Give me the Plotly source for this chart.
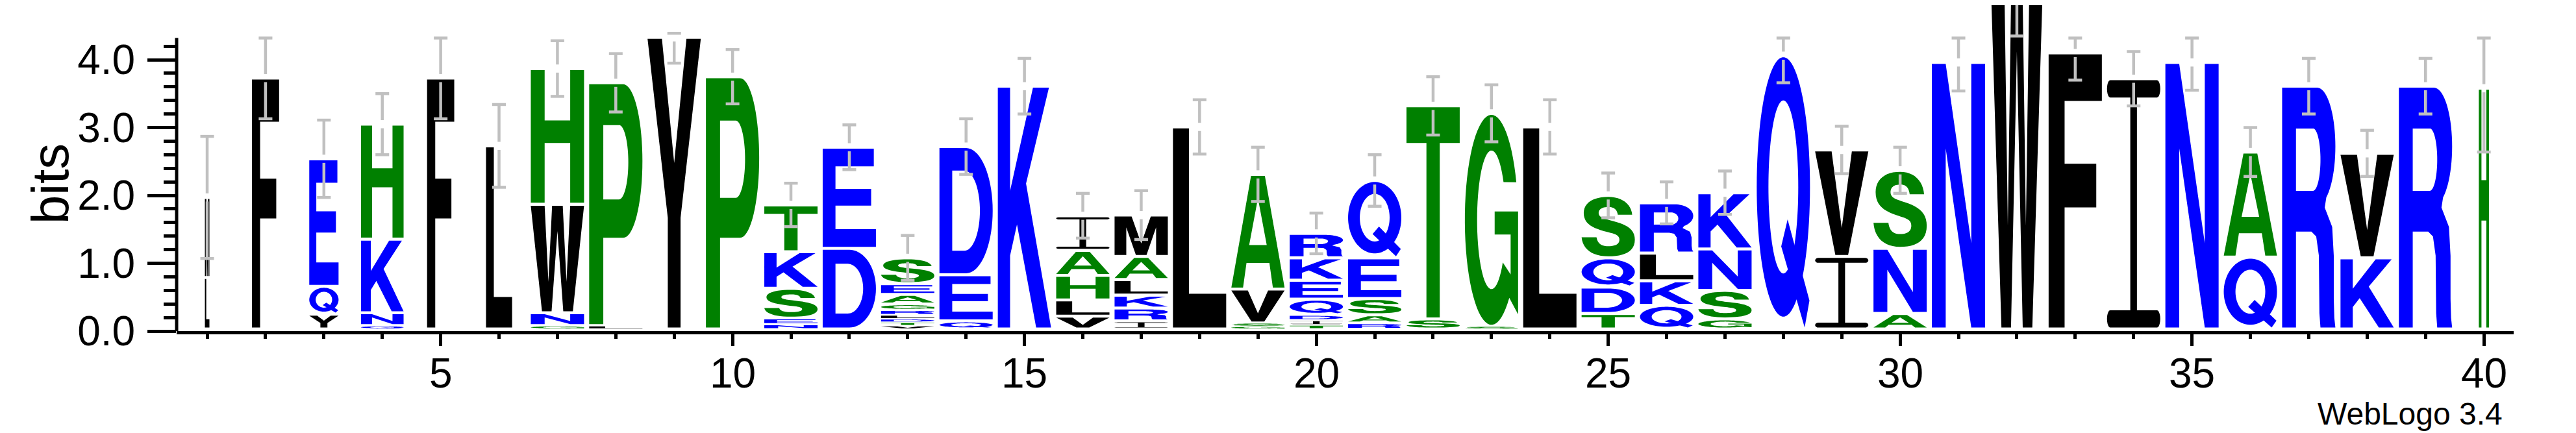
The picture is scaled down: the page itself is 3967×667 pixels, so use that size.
import numpy as np
import plotly.graph_objects as go

# ---------------- data ----------------
positions = list(range(1, 41))
# letters of each stack, bottom -> top
stack_letters = [
    "LM", "F", "YQE", "QNKH", "F", "L", "GNWH", "LP", "Y", "P",
    "NESKT", "DE", "VTDLRGAES", "QED", "K", "VLHAI", "IRKLAM", "L", "GSVA", "TIDQEKR",
    "RASEQ", "ST", "SG", "L", "TDQS", "QKLR", "GSNK", "Q", "IV", "ANS",
    "N", "W", "F", "I", "N", "QA", "R", "KV", "R", "H",
]
# heights (bits) of each letter, bottom -> top
stack_heights = [
    [0.76, 1.18], [3.70], [0.22, 0.41, 1.88], [0.05, 0.19, 1.085, 1.695], [3.70],
    [2.70], [0.05, 0.19, 1.60, 2.00], [0.05, 3.58], [4.30], [3.72],
    [0.07, 0.09, 0.44, 0.54, 0.69], [1.19, 1.49],
    [0.05, 0.05, 0.05, 0.06, 0.07, 0.09, 0.14, 0.16, 0.38],
    [0.12, 0.68, 1.89], [3.58], [0.19, 0.24, 0.36, 0.37, 0.51],
    [0.12, 0.19, 0.19, 0.23, 0.34, 0.61], [2.98], [0.04, 0.05, 0.50, 1.69],
    [0.06, 0.07, 0.08, 0.23, 0.28, 0.33, 0.36],
    [0.09, 0.12, 0.24, 0.60, 1.14], [0.15, 3.14], [0.04, 3.14], [2.98],
    [0.23, 0.39, 0.43, 0.92], [0.35, 0.36, 0.41, 0.74], [0.15, 0.42, 0.61, 0.83],
    [4.03], [1.07, 1.57], [0.23, 0.96, 1.15], [3.93], [5.40], [4.07], [3.69],
    [3.93], [1.06, 1.55], [3.58], [1.05, 1.54], [3.58], [3.55],
]
# relative stack width (fraction of a full column)
stack_width = [0.085, 0.51, 0.55, 0.80, 0.51, 0.49] + [1.0] * 33 + [0.19]
# error bar half-size (bits)
error_bits = [
    0.90, 0.60, 0.57, 0.45, 0.60, 0.61, 0.41, 0.43, 0.38, 0.40,
    0.32, 0.33, 0.33, 0.41, 0.41, 0.33, 0.36, 0.40, 0.40, 0.30,
    0.38, 0.43, 0.42, 0.40, 0.33, 0.31, 0.32, 0.40, 0.35, 0.34,
    0.42, 1.08, 0.40, 0.40, 0.41, 0.36, 0.41, 0.34, 0.41, 0.94,
]
xtick_vals = [5, 10, 15, 20, 25, 30, 35, 40]
ytick_vals = [0, 1, 2, 3, 4]
ytick_text = ["0.0", "1.0", "2.0", "3.0", "4.0"]
ytick_minor = [round(0.2 * i, 1) for i in range(1, 22) if i % 5 != 0]

# ---------------- style ----------------
FONT = "Liberation Sans, Arial, Helvetica, sans-serif"
GREEN, BLUE, BLACK, GREY = "#008000", "#0000FF", "#000000", "#C0C0C0"
COLOR = {}
for c in "STAPGHC":
    COLOR[c] = GREEN
for c in "KREDQN":
    COLOR[c] = BLUE
for c in "FLIMVWY":
    COLOR[c] = BLACK
Y_MAX_BITS = 4.32          # log2(20)
Y_TOP = 4.804              # top of picture in bits
FULL_W = 0.912             # full stack width in x units
BASE = 0.03
ERR_GAP = 0.06
CAP_HALF = 0.117


# ---------------- glyph outlines (unit box) ----------------
def ell(cx, cy, rx, ry, a0, a1, n=None):
    if n is None:
        n = max(6, int(abs(a1 - a0) / 5))
    t = np.radians(np.linspace(a0, a1, n + 1))
    return list(zip(cx + rx * np.cos(t), cy + ry * np.sin(t)))


def bez(p0, p1, p2, p3, n=12):
    t = np.linspace(0, 1, n + 1)[1:]
    out = []
    for s in t:
        a = (1 - s) ** 3
        b = 3 * (1 - s) ** 2 * s
        c = 3 * (1 - s) * s ** 2
        d = s ** 3
        out.append((a * p0[0] + b * p1[0] + c * p2[0] + d * p3[0],
                    a * p0[1] + b * p1[1] + c * p2[1] + d * p3[1]))
    return out


def s_outline():
    pts = [(0.95, 0.70), (0.68, 0.70)]
    segs1 = [((0.68, 0.70), (0.66, 0.80), (0.60, 0.83), (0.50, 0.83)),
             ((0.50, 0.83), (0.38, 0.83), (0.32, 0.79), (0.32, 0.73)),
             ((0.32, 0.73), (0.32, 0.66), (0.40, 0.64), (0.52, 0.61)),
             ((0.52, 0.61), (0.80, 0.55), (1.00, 0.48), (1.00, 0.28)),
             ((1.00, 0.28), (1.00, 0.08), (0.80, 0.00), (0.50, 0.00)),
             ((0.50, 0.00), (0.20, 0.00), (0.02, 0.12), (0.00, 0.32))]
    for s in segs1:
        pts += bez(*s)
    pts.append((0.28, 0.32))
    segs2 = [((0.28, 0.32), (0.30, 0.21), (0.38, 0.17), (0.50, 0.17)),
             ((0.50, 0.17), (0.64, 0.17), (0.71, 0.21), (0.71, 0.28)),
             ((0.71, 0.28), (0.71, 0.36), (0.62, 0.38), (0.48, 0.41)),
             ((0.48, 0.41), (0.22, 0.47), (0.04, 0.54), (0.04, 0.73)),
             ((0.04, 0.73), (0.04, 0.90), (0.22, 1.00), (0.50, 1.00)),
             ((0.50, 1.00), (0.76, 1.00), (0.93, 0.88), (0.95, 0.70))]
    for s in segs2:
        pts += bez(*s)
    return pts


def i_outline():
    r, t = 0.06, 0.035
    pts = [(r, 0), (1 - r, 0)]
    pts += ell(1 - r, t, r, t, -90, 90, 10)
    pts += [(0.5625, 2 * t), (0.5625, 1 - 2 * t), (1 - r, 1 - 2 * t)]
    pts += ell(1 - r, 1 - t, r, t, -90, 90, 10)
    pts += [(r, 1)]
    pts += ell(r, 1 - t, r, t, 90, 270, 10)
    pts += [(0.4375, 1 - 2 * t), (0.4375, 2 * t), (r, 2 * t)]
    pts += ell(r, t, r, t, 90, 270, 10)
    return pts


GLYPHS = {
    "A": [[[(0, 0), (0.22, 0), (0.285, 0.22), (0.715, 0.22), (0.78, 0), (1, 0), (0.63, 1), (0.37, 1)],
           [(0.335, 0.38), (0.665, 0.38), (0.5, 0.80)]]],
    "D": [[[(0, 0), (0.5, 0)] + ell(0.5, 0.5, 0.5, 0.5, -90, 90) + [(0, 1)],
           [(0.24, 0.18), (0.47, 0.18)] + ell(0.47, 0.5, 0.29, 0.32, -90, 90) + [(0.24, 0.82)]]],
    "E": [[[(0, 0), (1, 0), (1, 0.18), (0.24, 0.18), (0.24, 0.42), (0.91, 0.42), (0.91, 0.59),
            (0.24, 0.59), (0.24, 0.82), (0.96, 0.82), (0.96, 1), (0, 1)]]],
    "F": [[[(0, 0), (0.30, 0), (0.30, 0.44), (0.895, 0.44), (0.895, 0.60), (0.30, 0.60),
            (0.30, 0.83), (1, 0.83), (1, 1), (0, 1)]]],
    "G": [[ell(0.5, 0.5, 0.5, 0.5, 21, 312) +
           [(1.0, 0.05), (1.0, 0.54), (0.56, 0.54), (0.56, 0.43), (0.86, 0.43), (0.86, 0.24)] +
           ell(0.5, 0.5, 0.27, 0.33, -38, -327)]],
    "H": [[[(0, 0), (0.26, 0), (0.26, 0.45), (0.74, 0.45), (0.74, 0), (1, 0), (1, 1), (0.74, 1),
            (0.74, 0.62), (0.26, 0.62), (0.26, 1), (0, 1)]]],
    "I": [[i_outline()]],
    "K": [[[(0, 0), (0.23, 0), (0.23, 0.30), (0.36, 0.43), (0.72, 0), (1, 0), (0.53, 0.60),
            (0.96, 1), (0.66, 1), (0.23, 0.57), (0.23, 1), (0, 1)]]],
    "L": [[[(0, 0), (1, 0), (1, 0.17), (0.30, 0.17), (0.30, 1), (0, 1)]]],
    "M": [[[(0, 0), (0.22, 0), (0.22, 0.72), (0.40, 0), (0.60, 0), (0.78, 0.72), (0.78, 0), (1, 0),
            (1, 1), (0.68, 1), (0.5, 0.30), (0.32, 1), (0, 1)]]],
    "N": [[[(0, 0), (0.26, 0), (0.26, 0.68), (0.74, 0), (1, 0), (1, 1), (0.74, 1), (0.74, 0.32),
            (0.26, 1), (0, 1)]]],
    "P": [[[(0, 0), (0.265, 0), (0.265, 0.36), (0.64, 0.36)] + ell(0.64, 0.68, 0.36, 0.32, -90, 90) + [(0, 1)],
           [(0.265, 0.52), (0.56, 0.52)] + ell(0.56, 0.675, 0.175, 0.155, -90, 90) + [(0.265, 0.83)]]],
    "Q": [[ell(0.5, 0.52, 0.5, 0.48, 0, 360, 90), ell(0.5, 0.52, 0.28, 0.32, 0, 360, 90)],
          [[(0.46, 0.30), (0.58, 0.40), (0.99, 0.10), (0.90, 0.0)]]],
    "R": [[[(0, 0), (0.26, 0), (0.26, 0.40), (0.55, 0.40), (0.64, 0.38), (0.69, 0.30), (0.70, 0.06),
            (0.72, 0), (1, 0), (0.98, 0.04), (0.97, 0.12), (0.97, 0.30), (0.94, 0.42), (0.80, 0.50)] +
           ell(0.66, 0.755, 0.34, 0.245, -60, 90) + [(0, 1)],
           [(0.26, 0.57), (0.58, 0.57)] + ell(0.58, 0.70, 0.14, 0.13, -90, 90) + [(0.26, 0.83)]]],
    "S": [[s_outline()]],
    "T": [[[(0.375, 0), (0.625, 0), (0.625, 0.83), (1, 0.83), (1, 1), (0, 1), (0, 0.83), (0.375, 0.83)]]],
    "V": [[[(0, 1), (0.31, 1), (0.5, 0.26), (0.69, 1), (1, 1), (0.62, 0), (0.38, 0)]]],
    "W": [[[(0, 1), (0.21, 0), (0.39, 0), (0.5, 0.76), (0.61, 0), (0.79, 0), (1, 1), (0.74, 1),
            (0.67, 0.28), (0.60, 1), (0.40, 1), (0.33, 0.28), (0.26, 1)]]],
    "Y": [[[(0, 1), (0.27, 1), (0.5, 0.57), (0.73, 1), (1, 1), (0.62, 0.38), (0.62, 0),
            (0.38, 0), (0.38, 0.38)]]],
}


def glyph_paths(ch, x0, x1, y0, y1):
    paths = []
    for part in GLYPHS[ch]:
        s = ""
        for ring in part:
            pts = [(x0 + u * (x1 - x0), y0 + v * (y1 - y0)) for u, v in ring]
            s += "M" + " L".join(f"{x:.4f},{y:.4f}" for x, y in pts) + " Z "
        paths.append(s.strip())
    return paths


# ---------------- figure ----------------
fig = go.Figure()
fig.add_trace(go.Scatter(x=positions, y=[0] * len(positions), mode="markers",
                         marker=dict(opacity=0), hoverinfo="skip", showlegend=False))

shapes = []
tops = []
for pos, letters, heights, wf in zip(positions, stack_letters, stack_heights, stack_width):
    half = FULL_W * wf / 2
    cum = BASE
    for ch, h in zip(letters, heights):
        pad = min(0.022, 0.2 * h)
        for p in glyph_paths(ch, pos - half, pos + half, cum + pad, cum + h - pad):
            shapes.append(dict(type="path", xref="x", yref="y", path=p,
                               fillcolor=COLOR[ch], line=dict(width=0),
                               fillrule="evenodd", layer="above"))
        cum += h
    tops.append(cum)

# error bars
for pos, top, err in zip(positions, tops, error_bits):
    lo = top - err
    hi = min(top + err, Y_MAX_BITS)
    if hi < top + ERR_GAP:
        hi = top + ERR_GAP
    ln = dict(color=GREY, width=4.5)
    if top - ERR_GAP > lo:
        shapes.append(dict(type="line", xref="x", yref="y", x0=pos, x1=pos, y0=lo, y1=top - ERR_GAP, line=ln))
    if hi > top + ERR_GAP:
        shapes.append(dict(type="line", xref="x", yref="y", x0=pos, x1=pos, y0=top + ERR_GAP, y1=hi, line=ln))
    for yy in (lo, hi):
        shapes.append(dict(type="line", xref="x", yref="y", x0=pos - CAP_HALF, x1=pos + CAP_HALF,
                           y0=yy, y1=yy, line=ln))

# y axis spine
shapes.append(dict(type="line", xref="paper", yref="y", x0=0, x1=0, y0=0, y1=Y_MAX_BITS,
                   line=dict(color="black", width=5)))

# x tick labels as annotations placed on the x axis scale
annotations = [
    dict(text=str(v), xref="x", yref="paper", x=v, y=0, xanchor="center", yanchor="middle",
         yshift=-65, showarrow=False, font=dict(size=64, family=FONT, color="black"))
    for v in xtick_vals
]
annotations += [
    dict(text="bits", xref="paper", yref="y", x=0, y=2.17, xanchor="center", yanchor="middle",
         xshift=-195, textangle=-90, showarrow=False, font=dict(size=80, family=FONT, color="black")),
    dict(text="WebLogo 3.4", xref="paper", yref="paper", x=1, y=0, xanchor="right",
         yanchor="middle", xshift=-15, yshift=-127, showarrow=False,
         font=dict(size=48, family=FONT, color="black")),
]

fig.update_layout(
    width=3967, height=667,
    margin=dict(l=264, r=104, t=0, b=165),
    paper_bgcolor="white", plot_bgcolor="white",
    showlegend=False,
    shapes=shapes,
    font=dict(family=FONT, color="black"),
    xaxis=dict(range=[0.477, 40.51], tickmode="array", tickvals=xtick_vals,
               showticklabels=False, ticks="outside", ticklen=18,
               tickwidth=5, tickcolor="black", showline=True, linewidth=5, linecolor="black",
               showgrid=False, zeroline=False,
               minor=dict(tickmode="array", tickvals=positions, ticks="outside", ticklen=7,
                          tickwidth=5, tickcolor="black", showgrid=False)),
    yaxis=dict(range=[0, Y_TOP], tickmode="array", tickvals=ytick_vals, ticktext=ytick_text,
               ticks="outside", ticklen=44, tickwidth=5, tickcolor="black",
               showline=False, showgrid=False, zeroline=False,
               tickfont=dict(size=64, family=FONT, color="black"),
               ticklabelstandoff=6,
               minor=dict(tickmode="array", tickvals=ytick_minor, ticks="outside", ticklen=19,
                          tickwidth=5, tickcolor="black", showgrid=False)),
    annotations=annotations,
)

fig.write_html("out.html")
